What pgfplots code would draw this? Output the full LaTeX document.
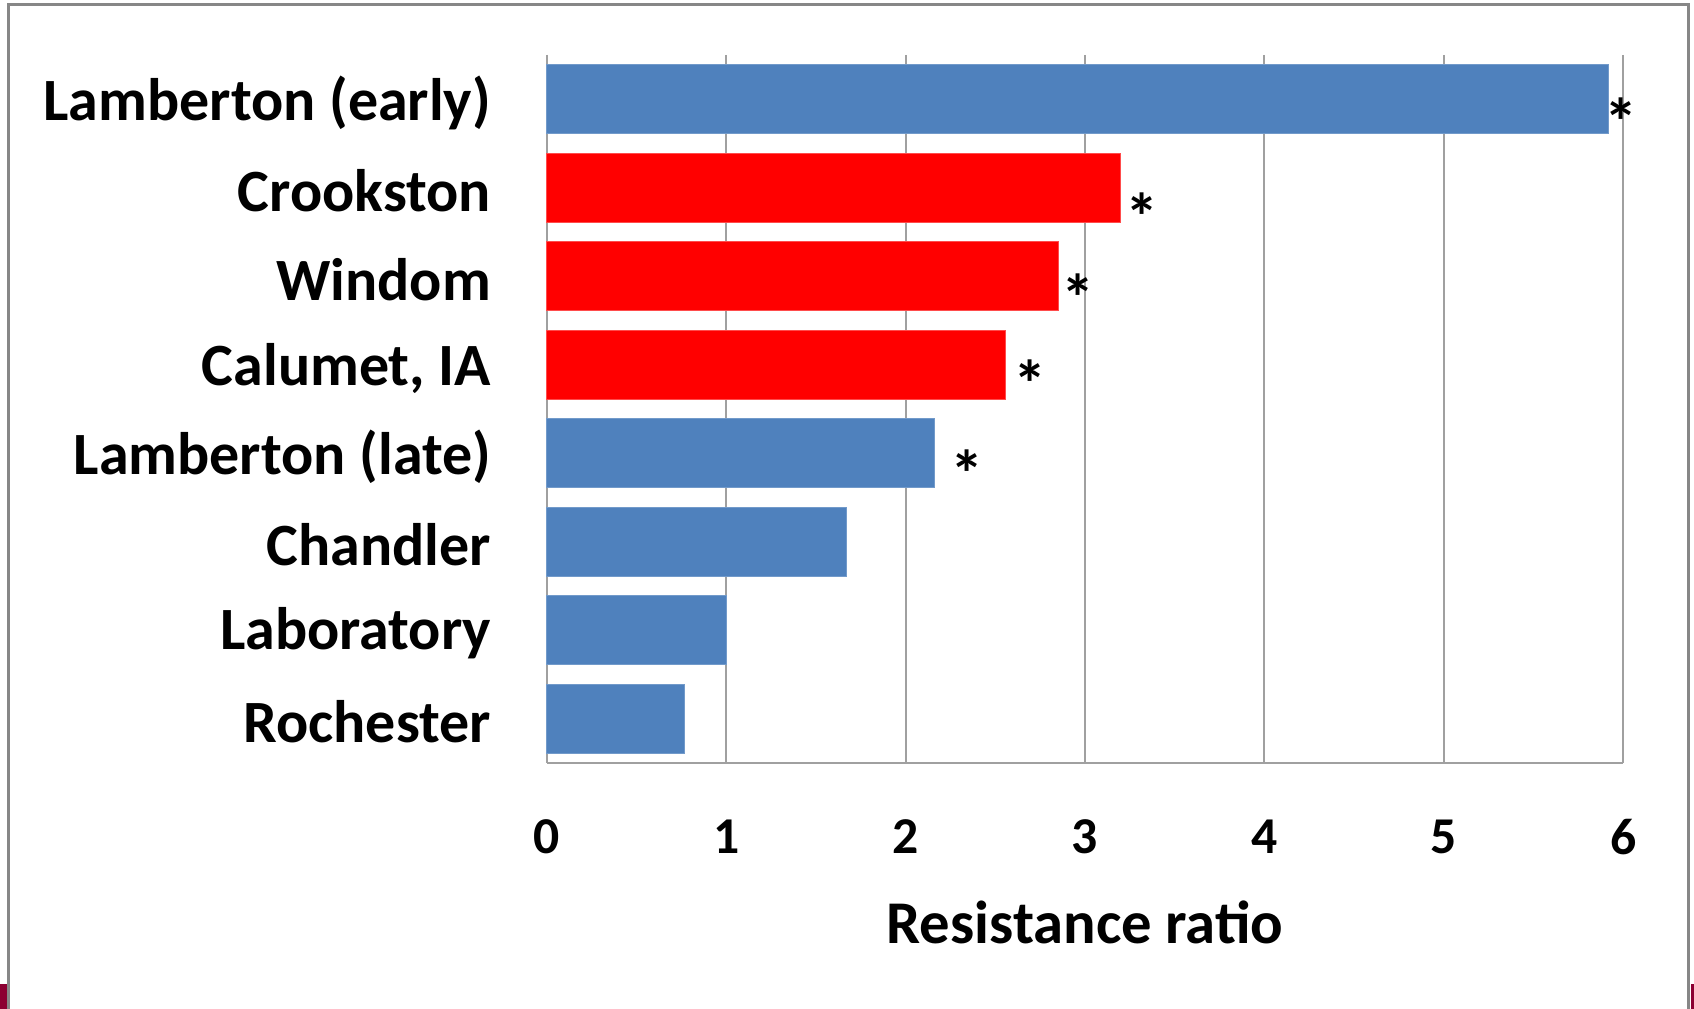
\documentclass[border=0pt]{standalone}
\usepackage{fontspec}
\setmainfont{Carlito}
\usepackage{pgfplots}
\pgfplotsset{compat=1.18}
\definecolor{barblue}{RGB}{79,129,189}
\definecolor{barred}{RGB}{255,0,0}
\definecolor{gridgray}{RGB}{160,160,160}
\definecolor{framegray}{RGB}{135,135,135}
\definecolor{slidered}{RGB}{140,0,50}

\begin{document}
\begin{tikzpicture}
% page size of the original slide crop
\useasboundingbox (0,0) rectangle (508.2bp,302.7bp);
\draw[framegray, line width=0.9bp] (2.55bp,-5bp) -- (2.55bp,301.2bp) -- (506.4bp,301.2bp) -- (506.4bp,-5bp);
\fill[slidered] (0,0) rectangle (2.1bp,7.5bp);
\fill[slidered] (507.3bp,0) rectangle (508.2bp,7.5bp);

\begin{axis}[
    at={(164.0bp,73.8bp)}, anchor=south west,
    scale only axis,
    width=323.0bp, height=212.4bp,
    xmin=0, xmax=6,
    ymin=-0.5, ymax=7.5,
    y dir=reverse,
    xtick={0,1,2,3,4,5,6},
    ytick={0,1,2,3,4,5,6,7},
    yticklabels={Lamberton (early),Crookston,Windom,{Calumet, IA},Lamberton (late),Chandler,Laboratory,Rochester},
    axis lines*=left,
    axis line style={gridgray, line width=0.6bp},
    xmajorgrids,
    grid style={gridgray, line width=0.6bp},
    major tick length=0pt,
    /pgf/number format/assume math mode=true,
    xticklabel style={font=\fontsize{15.5bp}{18bp}\selectfont\bfseries, inner sep=0pt, anchor=north, yshift=-16.8bp},
    yticklabel style={font=\fontsize{18bp}{21bp}\selectfont\bfseries, inner sep=0pt, anchor=east, xshift=-16.5bp, yshift=-1bp},
    xlabel={Resistance ratio},
    xlabel style={font=\fontsize{18.2bp}{21bp}\selectfont\bfseries, inner sep=0pt, at={(axis description cs:0.5,0)}, anchor=north, yshift=-41.1bp},
    clip=false,
]
% blue bars
\addplot[xbar, bar width=0.78, bar shift=0pt, fill=barblue, draw=barblue!80!white, line width=0.3bp]
    coordinates {(5.92,0) (2.16,4) (1.67,5) (1.00,6) (0.77,7)};
% red bars
\addplot[xbar, bar width=0.78, bar shift=0pt, fill=barred, draw=barred!70!white, line width=0.3bp]
    coordinates {(3.20,1) (2.855,2) (2.556,3)};
% significance stars
\addplot[draw=none, mark=none, nodes near coords={*},
    every node near coord/.append style={font=\fontsize{20bp}{22bp}\selectfont\bfseries, anchor=center, inner sep=0pt}]
    coordinates {(5.99,0.25) (3.317,1.33) (2.963,2.24) (2.694,3.21) (2.341,4.23)};
\end{axis}
\end{tikzpicture}
\end{document}
